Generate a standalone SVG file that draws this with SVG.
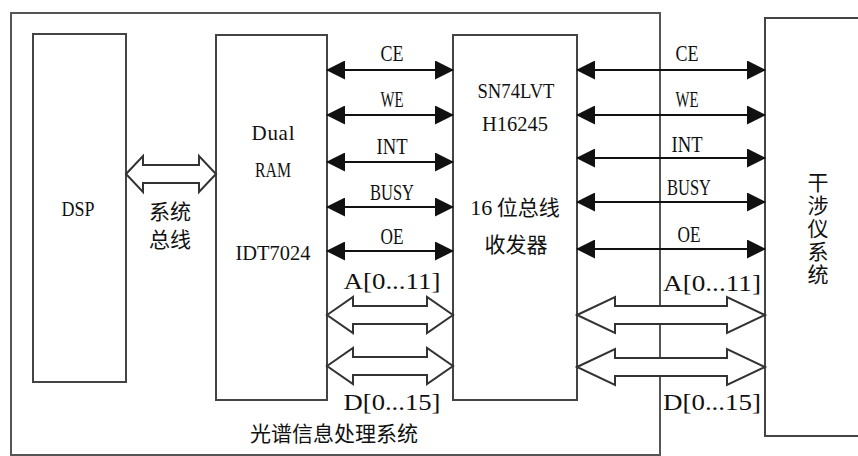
<svg xmlns="http://www.w3.org/2000/svg" width="858" height="456" viewBox="0 0 858 456">
<style>
.box{fill:#fff;stroke:#444;stroke-width:2}
.outer{fill:none;stroke:#555;stroke-width:2}
.sig{stroke:#111;stroke-width:2.2;fill:none;marker-start:url(#ah);marker-end:url(#ah)}
.bus{fill:#fff;stroke:#333;stroke-width:2;stroke-linejoin:miter}
.t{font-family:"Liberation Serif","Times New Roman",serif;font-size:21px;fill:#111;text-anchor:middle}
.lb{font-family:"Liberation Serif","Times New Roman",serif;font-size:23px;fill:#111;text-anchor:middle}
.cn{font-family:"Noto Sans CJK SC","Noto Sans CJK TC",sans-serif;font-size:21px;fill:#111;text-anchor:middle}
</style>
<defs>
<marker id="ah" viewBox="0 0 19 19" refX="18" refY="9.5" markerWidth="19" markerHeight="19" markerUnits="userSpaceOnUse" orient="auto-start-reverse">
<path d="M0,0 L19,9.5 L0,19 z" fill="#111"/>
</marker>
</defs>
<g id="outer-system">
<rect class="outer" x="11" y="13" width="649" height="442"/>
<text class="cn" x="334" y="441">光谱信息处理系统</text>
</g>
<g id="dsp">
<rect class="box" x="33" y="34" width="93" height="348"/>
<text class="t" x="78" y="216" font-size="22" textLength="33" lengthAdjust="spacingAndGlyphs">DSP</text>
</g>
<g id="dual-ram">
<rect class="box" x="216" y="35" width="111" height="365"/>
<text class="t" x="273" y="140" font-size="22" textLength="43" lengthAdjust="spacing">Dual</text>
<text class="t" x="273" y="177" font-size="22" textLength="36" lengthAdjust="spacingAndGlyphs">RAM</text>
<text class="t" x="273" y="260" textLength="75" lengthAdjust="spacingAndGlyphs">IDT7024</text>
</g>
<g id="transceiver">
<rect class="box" x="453" y="35" width="124" height="365"/>
<text class="t" x="516" y="98" font-size="22" textLength="77" lengthAdjust="spacingAndGlyphs">SN74LVT</text>
<text class="t" x="515" y="131" font-size="22" textLength="66" lengthAdjust="spacingAndGlyphs">H16245</text>
<text class="cn" x="515" y="215"><tspan font-family="Liberation Serif, serif" font-size="22">16</tspan> 位总线</text>
<text class="cn" x="516" y="252">收发器</text>
</g>
<g id="interferometer">
<rect class="box" x="765" y="18" width="120" height="418"/>
<text class="cn" x="818" y="172" font-size="19" writing-mode="vertical-rl" letter-spacing="2" style="text-anchor:start">干涉仪系统</text>
</g>
<g id="connectors">
<polygon class="bus" points="126,174 143,156 143,165 199,165 199,156 216,174 199,192 199,183 143,183 143,192"/>
<text class="cn" x="170" y="219">系统</text>
<text class="cn" x="170" y="247">总线</text>

<line class="sig" x1="327" y1="70" x2="453" y2="70"/>
<line class="sig" x1="327" y1="115" x2="453" y2="115"/>
<line class="sig" x1="327" y1="162" x2="453" y2="162"/>
<line class="sig" x1="327" y1="207" x2="453" y2="207"/>
<line class="sig" x1="327" y1="251" x2="453" y2="251"/>
<text class="lb" x="392" y="61" textLength="23" lengthAdjust="spacingAndGlyphs">CE</text>
<text class="lb" x="392" y="107" textLength="23" lengthAdjust="spacingAndGlyphs">WE</text>
<text class="lb" x="392" y="154" textLength="31" lengthAdjust="spacingAndGlyphs">INT</text>
<text class="lb" x="392" y="200" textLength="44" lengthAdjust="spacingAndGlyphs">BUSY</text>
<text class="lb" x="392" y="244" textLength="23" lengthAdjust="spacingAndGlyphs">OE</text>
<text class="lb" x="392" y="289" textLength="97" lengthAdjust="spacingAndGlyphs">A[0...11]</text>
<polygon class="bus" points="327,315 353,297 353,306 427,306 427,297 453,315 427,333 427,324 353,324 353,333"/>
<polygon class="bus" points="327,366 353,348 353,357 427,357 427,348 453,366 427,384 427,375 353,375 353,384"/>
<text class="lb" x="392" y="410" textLength="97" lengthAdjust="spacingAndGlyphs">D[0...15]</text>

<line class="sig" x1="577" y1="70" x2="765" y2="70"/>
<line class="sig" x1="577" y1="115" x2="765" y2="115"/>
<line class="sig" x1="577" y1="158" x2="765" y2="158"/>
<line class="sig" x1="577" y1="202" x2="765" y2="202"/>
<line class="sig" x1="577" y1="249" x2="765" y2="249"/>
<text class="lb" x="687" y="61" textLength="23" lengthAdjust="spacingAndGlyphs">CE</text>
<text class="lb" x="687" y="107" textLength="23" lengthAdjust="spacingAndGlyphs">WE</text>
<text class="lb" x="687" y="152" textLength="31" lengthAdjust="spacingAndGlyphs">INT</text>
<text class="lb" x="689" y="195" textLength="44" lengthAdjust="spacingAndGlyphs">BUSY</text>
<text class="lb" x="689" y="242" textLength="23" lengthAdjust="spacingAndGlyphs">OE</text>
<text class="lb" x="712" y="291" textLength="98" lengthAdjust="spacingAndGlyphs">A[0...11]</text>
<polygon class="bus" points="577,315 615,297 615,306 727,306 727,297 765,315 727,333 727,324 615,324 615,333"/>
<polygon class="bus" points="577,367 615,349 615,358 727,358 727,349 765,367 727,385 727,376 615,376 615,385"/>
<text class="lb" x="712" y="410" textLength="98" lengthAdjust="spacingAndGlyphs">D[0...15]</text>
</g>
</svg>
